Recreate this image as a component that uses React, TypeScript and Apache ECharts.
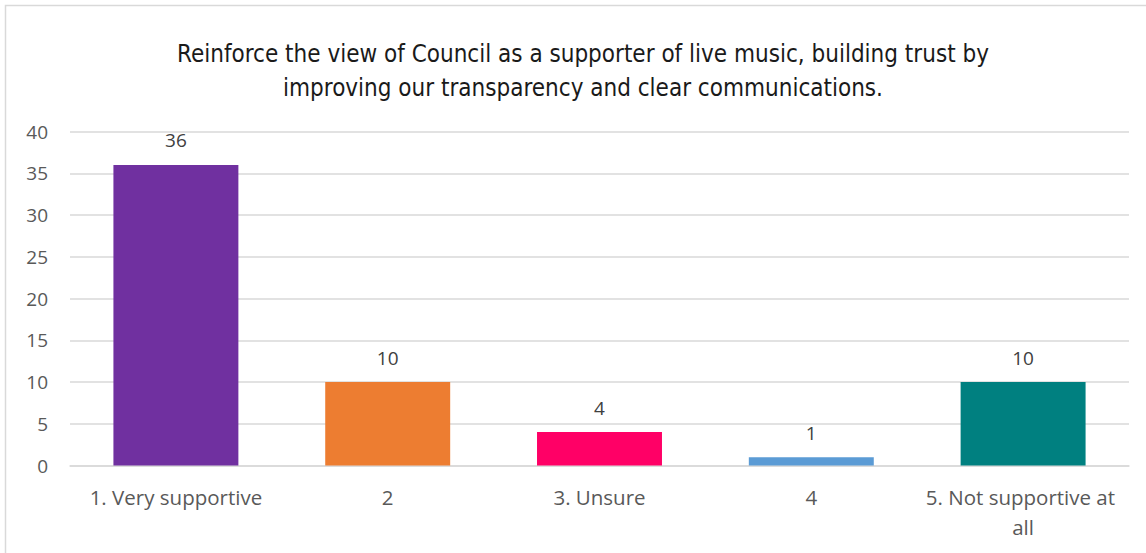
import React, { useEffect, useRef } from "react";
import * as echarts from "echarts";

const titleText =
  "Reinforce the view of Council as a supporter of live music, building trust by\nimproving our transparency and clear communications.";
const categories = ["1. Very supportive", "2", "3. Unsure", "4", "5. Not supportive at all"];
const values = [36, 10, 4, 1, 10];
const barColors = ["#7030A0", "#ED7D31", "#FF0066", "#5B9BD5", "#008080"];
const yTicks = { min: 0, max: 40, interval: 5 };

const labelFont = "'Open Sans', Lato, sans-serif";

export default function App() {
  const ref = useRef<HTMLDivElement>(null);
  useEffect(() => {
    document.body.style.margin = "0";
    const chart = echarts.init(ref.current!, null, { renderer: "svg" });
    chart.setOption({
      animation: false,
      backgroundColor: "#ffffff",
      title: {
        text: titleText,
        left: 578,
        top: 32,
        textAlign: "center",
        textStyle: {
          fontFamily: "'DejaVu Sans Condensed', sans-serif",
          fontSize: 24,
          fontWeight: "normal",
          color: "#1a1a1a",
          lineHeight: 34,
        },
      },
      graphic: [
        {
          type: "rect",
          shape: { x: 5.5, y: 5.5, width: 1300, height: 700 },
          style: { fill: "none", stroke: "#d9d9d9", lineWidth: 1.5 },
          silent: true,
        },
      ],
      grid: { left: 70, right: 17, top: 131.5, bottom: 87.5, containLabel: false },
      xAxis: {
        type: "category",
        data: categories,
        axisLine: { lineStyle: { color: "#d9d9d9", width: 1.5 } },
        axisTick: { show: false },
        axisLabel: {
          interval: 0,
          margin: 16,
          color: "#595959",
          fontFamily: labelFont,
          fontSize: 20.5,
          lineHeight: 30,
          width: 205,
          overflow: "break",
        },
      },
      yAxis: {
        type: "value",
        min: yTicks.min,
        max: yTicks.max,
        interval: yTicks.interval,
        axisLine: { show: false },
        axisTick: { show: false },
        splitLine: { lineStyle: { color: "#d9d9d9", width: 1.5 } },
        axisLabel: {
          margin: 22,
          color: "#595959",
          fontFamily: labelFont,
          fontSize: 19,
        },
      },
      series: [
        {
          type: "bar",
          data: values.map((v, i) => ({ value: v, itemStyle: { color: barColors[i] } })),
          barCategoryGap: "41%",
          label: {
            show: true,
            position: "top",
            distance: 15,
            color: "#404040",
            fontFamily: labelFont,
            fontSize: 19,
          },
        },
      ],
    });
    return () => chart.dispose();
  }, []);
  return <div ref={ref} style={{ width: 1146, height: 553 }} />;
}
